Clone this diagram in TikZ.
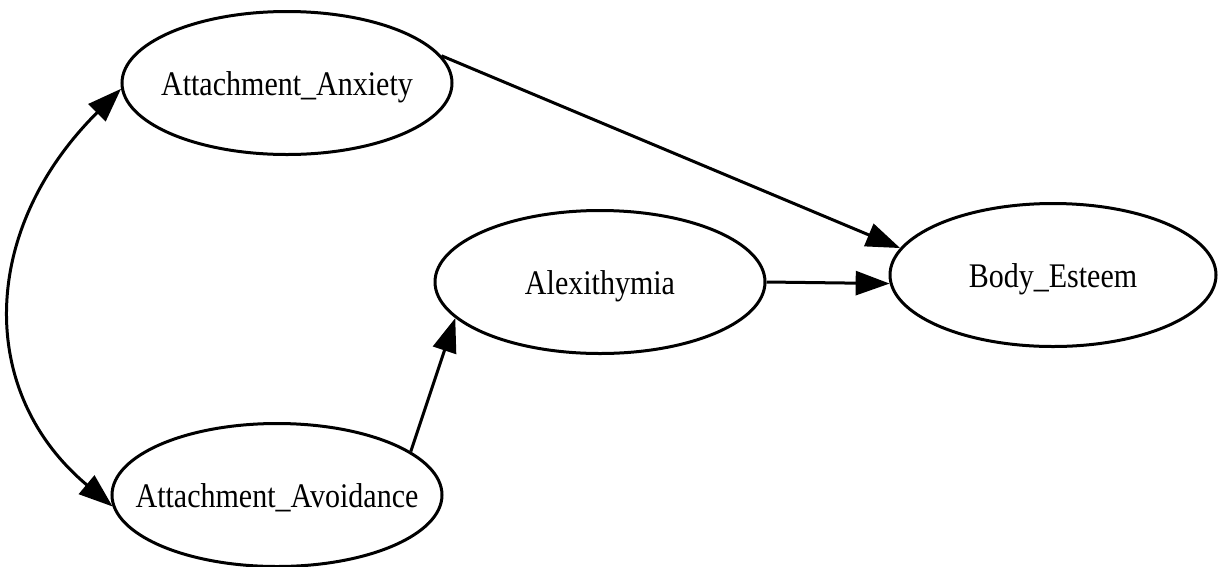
\documentclass[tikz,border=0pt]{standalone}
\usepackage{fontspec}
\setmainfont{Liberation Serif}
\usepackage{graphicx}
\usetikzlibrary{arrows.meta,shapes.geometric}
\newcommand{\lbltext}[1]{\makebox[0pt]{\scalebox{0.87}[1]{#1}}}
\begin{document}
\begin{tikzpicture}[x=1pt,y=-1pt,
  latent/.style={draw, ellipse, line width=3pt, minimum width=330pt, minimum height=143pt,
    inner sep=0pt, text height=27pt, text depth=2pt, font=\fontsize{34.5}{40}\selectfont},
  conn/.style={line width=3pt, -{Triangle[length=34pt,width=24pt]}},
  bconn/.style={line width=3pt, {Triangle[length=34pt,width=24pt]}-{Triangle[length=34pt,width=24pt]}}]
\useasboundingbox (0,0) rectangle (1218,566);
\node[latent] (anx) at (287,83) {\lbltext{Attachment\_Anxiety}};
\node[latent] (alex) at (600,282) {\lbltext{Alexithymia}};
\node[latent, minimum width=326pt] (body) at (1053,275) {\lbltext{Body\_Esteem}};
\node[latent] (avoid) at (277,495) {\lbltext{Attachment\_Avoidance}};
\draw[conn] (anx.10.5) -- (body.170);
\draw[conn] (alex.0) -- (body.183);
\draw[conn] (avoid.18) -- (alex.194);
\draw[bconn] (anx.182) .. controls (-20,229) and (-24,392) .. (avoid.184.5);
\end{tikzpicture}
\end{document}
